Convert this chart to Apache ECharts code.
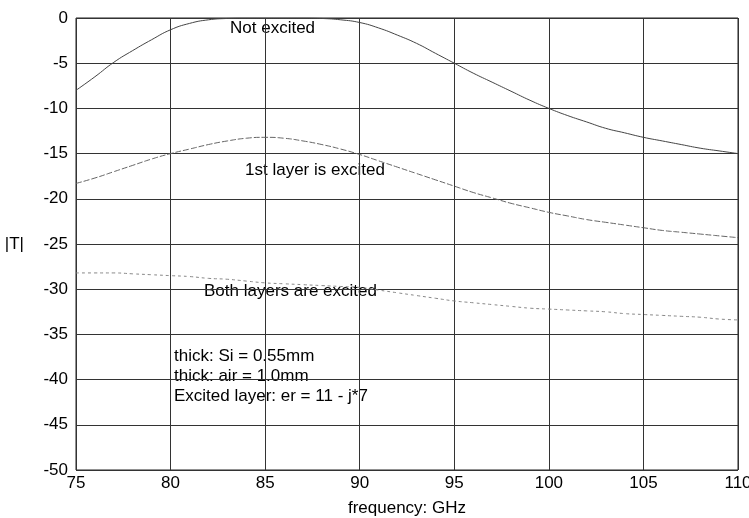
<!DOCTYPE html>
<html>
<head>
<meta charset="utf-8">
<script src="https://cdn.jsdelivr.net/npm/echarts@6/dist/echarts.min.js"></script>
<style>
  html, body { margin: 0; padding: 0; background: #fff; }
  #chart { width: 749px; height: 518px; }
</style>
</head>
<body>
<div id="chart"></div>
<script>
// frequency in GHz, one point per GHz
const freqs = [75, 76, 77, 78, 79, 80, 81, 82, 83, 84, 85, 86, 87, 88, 89, 90, 91, 92,
  93, 94, 95, 96, 97, 98, 99, 100, 101, 102, 103, 104, 105, 106, 107, 108, 109, 110];

const notExcited = [-8.0, -6.5, -4.9, -3.6, -2.4, -1.3, -0.6, -0.2, -0.05, 0, 0, 0, 0, -0.05,
  -0.2, -0.5, -1.1, -1.9, -2.8, -3.9, -5.0, -6.1, -7.1, -8.1, -9.1, -10.0, -10.8, -11.5,
  -12.2, -12.7, -13.2, -13.6, -14.0, -14.4, -14.7, -15.0];

const firstExcited = [-18.3, -17.7, -17.0, -16.3, -15.6, -15.0, -14.5, -14.0, -13.6, -13.3,
  -13.2, -13.3, -13.6, -14.0, -14.5, -15.1, -15.8, -16.5, -17.2, -17.9, -18.6, -19.3, -19.9,
  -20.5, -21.0, -21.5, -21.9, -22.3, -22.6, -22.9, -23.2, -23.5, -23.7, -23.9, -24.1, -24.3];

const bothExcited = [-28.2, -28.2, -28.2, -28.3, -28.4, -28.5, -28.6, -28.8, -28.9, -29.1,
  -29.3, -29.4, -29.5, -29.6, -29.7, -29.8, -30.1, -30.4, -30.7, -31.0, -31.3, -31.5, -31.7,
  -31.9, -32.1, -32.2, -32.3, -32.4, -32.5, -32.7, -32.8, -32.9, -33.0, -33.1, -33.3, -33.4];

const notes = ['thick: Si = 0.55mm', 'thick: air = 1.0mm', 'Excited layer: er = 11 - j*7'];

const font = 'Liberation Sans, Arial, sans-serif';
const pairs = (ys) => freqs.map((f, i) => [f, ys[i]]);

const chart = echarts.init(document.getElementById('chart'));

chart.setOption({
  backgroundColor: '#fff',
  animation: false,
  grid: {
    left: 76, right: 11, top: 18, bottom: 48, show: true,
    borderColor: '#222', borderWidth: 1,
    outerBoundsMode: 'none', containLabel: false
  },
  xAxis: {
    type: 'value', min: 75, max: 110, interval: 5,
    name: 'frequency: GHz', nameLocation: 'middle', nameGap: 30,
    nameTextStyle: { fontFamily: font, fontSize: 17, color: '#000' },
    axisLine: { show: false },
    axisTick: { show: false },
    axisLabel: { fontFamily: font, fontSize: 17, color: '#000', margin: 5 },
    splitLine: { show: true, lineStyle: { color: '#333', width: 1 } }
  },
  yAxis: {
    type: 'value', min: -50, max: 0, interval: 5,
    name: '|T|', nameLocation: 'middle', nameGap: 52, nameRotate: 0,
    nameTextStyle: { fontFamily: font, fontSize: 17, color: '#000' },
    axisLine: { show: false },
    axisTick: { show: false },
    axisLabel: { fontFamily: font, fontSize: 17, color: '#000', margin: 8 },
    splitLine: { show: true, lineStyle: { color: '#333', width: 1 } }
  },
  series: [
    {
      name: 'Not excited', type: 'line', smooth: true, symbol: 'none',
      data: pairs(notExcited),
      lineStyle: { color: '#444', width: 1 }
    },
    {
      name: '1st layer is excited', type: 'line', smooth: true, symbol: 'none',
      data: pairs(firstExcited),
      lineStyle: { color: '#666', width: 1, type: [6, 2] }
    },
    {
      name: 'Both layers are excited', type: 'line', smooth: true, symbol: 'none',
      data: pairs(bothExcited),
      lineStyle: { color: '#888', width: 1, type: [3, 3] }
    }
  ],
  graphic: [
    { type: 'text', left: 230, top: 20, style: { text: 'Not excited', font: '17px ' + font, fill: '#000' } },
    { type: 'text', left: 245, top: 162, style: { text: '1st layer is excited', font: '17px ' + font, fill: '#000' } },
    { type: 'text', left: 204, top: 283, style: { text: 'Both layers are excited', font: '17px ' + font, fill: '#000' } },
    {
      type: 'text', left: 174, top: 346,
      style: { text: notes.join('\n'), font: '17px ' + font, lineHeight: 20, fill: '#000' }
    }
  ]
});
</script>
</body>
</html>
